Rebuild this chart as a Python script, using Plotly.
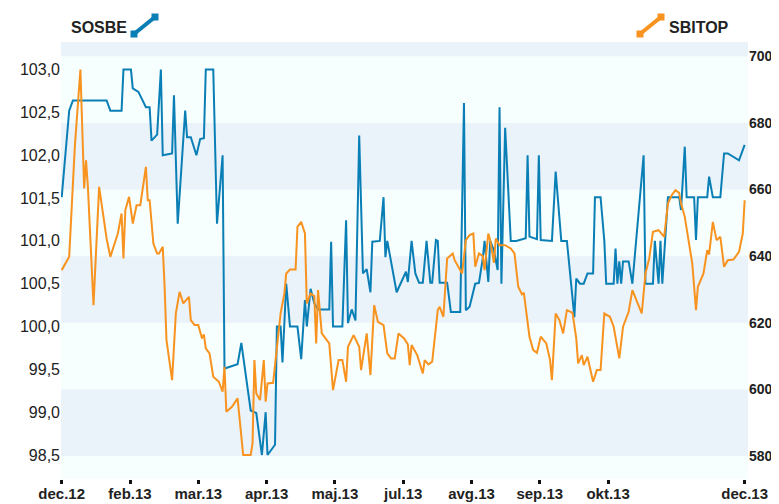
import plotly.graph_objects as go

# ---------------- data ----------------
blue_name = "SOSBE"
blue_dates = ["2012-12-31","2013-01-04","2013-01-06","2013-01-24","2013-01-26","2013-02-01","2013-02-02","2013-02-06",
"2013-02-07","2013-02-10","2013-02-14","2013-02-16","2013-02-17","2013-02-20","2013-02-22","2013-02-23","2013-02-28",
"2013-03-01","2013-03-03","2013-03-07","2013-03-08","2013-03-10","2013-03-13","2013-03-15","2013-03-17","2013-03-18",
"2013-03-22","2013-03-24","2013-03-27","2013-03-28","2013-04-04","2013-04-06","2013-04-11","2013-04-14","2013-04-17",
"2013-04-19","2013-04-20","2013-04-24","2013-04-25","2013-04-27","2013-04-28","2013-04-30","2013-05-02","2013-05-06",
"2013-05-08","2013-05-10","2013-05-11","2013-05-13","2013-05-15","2013-05-17","2013-05-23","2013-05-24","2013-05-25",
"2013-05-30","2013-06-01","2013-06-02","2013-06-04","2013-06-06","2013-06-08","2013-06-10","2013-06-12","2013-06-14",
"2013-06-15","2013-06-19","2013-06-21","2013-06-22","2013-06-23","2013-06-26","2013-06-28","2013-07-03","2013-07-04",
"2013-07-06","2013-07-08","2013-07-10","2013-07-12","2013-07-14","2013-07-16","2013-07-17","2013-07-19","2013-07-20",
"2013-07-21","2013-07-25","2013-07-27","2013-08-01","2013-08-03","2013-08-04","2013-08-06","2013-08-09","2013-08-11",
"2013-08-13","2013-08-14","2013-08-16","2013-08-17","2013-08-19","2013-08-21","2013-08-22","2013-08-23","2013-08-25",
"2013-08-28","2013-08-31","2013-09-05","2013-09-06","2013-09-07","2013-09-11","2013-09-12","2013-09-13","2013-09-19",
"2013-09-21","2013-09-24","2013-09-27","2013-09-29","2013-10-01","2013-10-02","2013-10-04","2013-10-06","2013-10-08",
"2013-10-11","2013-10-12","2013-10-15","2013-10-17","2013-10-18","2013-10-22","2013-10-23","2013-10-24","2013-10-25",
"2013-10-26","2013-10-27","2013-10-30","2013-11-01","2013-11-03","2013-11-07","2013-11-08","2013-11-12","2013-11-13",
"2013-11-15","2013-11-16","2013-11-17","2013-11-20","2013-11-26","2013-11-27","2013-11-29","2013-11-30","2013-12-04",
"2013-12-05","2013-12-06","2013-12-11","2013-12-12","2013-12-14","2013-12-18","2013-12-20","2013-12-22","2013-12-28",
"2013-12-31"]
blue_values = [101.51,102.52,102.64,102.64,102.52,102.52,103.0,103.0,
102.78,102.74,102.56,102.56,102.17,102.24,103.0,102.0,102.02,
102.70,101.20,102.52,102.21,102.21,102.0,102.19,102.2,103.0,
103.0,101.20,102.0,99.51,99.56,99.81,99.02,98.99,98.5,
99.0,98.5,98.62,100.0,100.0,99.58,100.5,100.0,100.0,
99.62,100.31,100.0,100.44,100.27,100.2,100.2,100.99,100.0,
100.0,101.24,100.04,100.2,100.07,102.23,100.62,100.67,100.40,
100.99,101.0,101.51,100.81,101.0,100.62,100.40,100.64,100.52,
101.0,100.62,100.51,100.51,101.0,100.51,100.51,101.01,101.0,
100.51,100.51,100.17,100.17,102.61,100.19,100.23,100.50,100.51,
100.79,101.0,100.52,101.0,100.89,100.66,102.56,100.5,102.32,
101.0,101.0,101.03,102.0,101.05,101.02,102.0,101.01,101.0,
101.81,101.0,101.0,100.56,100.11,100.56,100.50,100.5,100.62,
100.62,101.51,101.51,101.0,100.5,100.5,100.91,100.5,100.76,
100.5,100.76,100.76,100.5,101.0,102.0,100.5,100.5,101.0,
100.5,101.0,100.5,101.51,101.51,101.36,102.10,101.51,101.51,
101.01,101.51,101.51,101.75,101.51,101.51,102.02,102.02,101.94,
102.12]

orange_name = "SBITOP"
orange_dates = ["2012-12-31","2013-01-04","2013-01-07","2013-01-08","2013-01-10","2013-01-12","2013-01-13","2013-01-14",
"2013-01-17","2013-01-20","2013-01-24","2013-01-26","2013-01-30","2013-02-01","2013-02-02","2013-02-03","2013-02-05",
"2013-02-07","2013-02-09","2013-02-11","2013-02-14","2013-02-15","2013-02-16","2013-02-18","2013-02-20","2013-02-21",
"2013-02-23","2013-02-24","2013-02-25","2013-02-28","2013-03-02","2013-03-04","2013-03-06","2013-03-09","2013-03-10",
"2013-03-12","2013-03-14","2013-03-16","2013-03-17","2013-03-18","2013-03-20","2013-03-22","2013-03-25","2013-03-27",
"2013-03-28","2013-03-29","2013-04-01","2013-04-04","2013-04-05","2013-04-07","2013-04-11","2013-04-12","2013-04-13",
"2013-04-14","2013-04-16","2013-04-18","2013-04-19","2013-04-20","2013-04-23","2013-04-25","2013-04-27","2013-04-29",
"2013-04-30","2013-05-02","2013-05-05","2013-05-06","2013-05-08","2013-05-10","2013-05-11","2013-05-13","2013-05-15",
"2013-05-16","2013-05-17","2013-05-19","2013-05-23","2013-05-25","2013-05-28","2013-05-30","2013-06-01","2013-06-02",
"2013-06-05","2013-06-08","2013-06-09","2013-06-12","2013-06-14","2013-06-16","2013-06-18","2013-06-21","2013-06-23",
"2013-06-25","2013-06-27","2013-06-29","2013-07-02","2013-07-04","2013-07-05","2013-07-06","2013-07-09","2013-07-12",
"2013-07-13","2013-07-15","2013-07-17","2013-07-20","2013-07-21","2013-07-23","2013-07-25","2013-07-28","2013-07-29",
"2013-08-01","2013-08-02","2013-08-04","2013-08-06","2013-08-08","2013-08-09","2013-08-11","2013-08-13","2013-08-14",
"2013-08-16","2013-08-17","2013-08-19","2013-08-20","2013-08-22","2013-08-25","2013-08-28","2013-08-30","2013-09-01",
"2013-09-03","2013-09-04","2013-09-07","2013-09-09","2013-09-11","2013-09-13","2013-09-16","2013-09-18","2013-09-19",
"2013-09-21","2013-09-23","2013-09-25","2013-09-27","2013-09-30","2013-10-02","2013-10-03","2013-10-05","2013-10-06",
"2013-10-08","2013-10-11","2013-10-13","2013-10-15","2013-10-17","2013-10-20","2013-10-22","2013-10-25","2013-10-27",
"2013-10-30","2013-11-01","2013-11-03","2013-11-06","2013-11-08","2013-11-10","2013-11-12","2013-11-15","2013-11-18",
"2013-11-20","2013-11-22","2013-11-24","2013-11-26","2013-11-27","2013-11-29","2013-12-03","2013-12-05","2013-12-06",
"2013-12-09","2013-12-11","2013-12-12","2013-12-14","2013-12-16","2013-12-18","2013-12-20","2013-12-22","2013-12-25",
"2013-12-28","2013-12-30","2013-12-31"]
orange_values = [635.8,639.8,672.8,680.8,696.0,660.3,668.8,660.8,
625.3,660.8,645.3,639.8,646.8,652.8,639.3,653.8,657.8,
649.8,655.3,655.3,666.8,656.8,656.8,643.8,640.8,640.8,
642.8,630.8,614.8,602.8,622.8,629.3,625.8,627.8,620.8,
619.3,619.3,615.3,616.5,612.3,610.8,603.8,602.3,599.3,
606.8,593.3,594.8,597.3,591.8,580.3,580.3,583.8,608.8,
598.8,596.8,608.8,596.3,601.8,602.0,612.8,622.8,628.8,
634.8,636.0,636.0,648.8,650.3,646.8,625.8,628.8,628.0,
613.8,629.8,616.8,613.8,599.8,608.8,608.8,602.3,612.8,
616.3,612.8,605.8,616.8,604.3,625.3,620.3,619.3,610.8,
609.3,609.3,616.8,615.3,613.5,607.3,613.3,610.3,604.8,
608.8,607.5,608.3,623.8,624.8,621.8,639.3,640.8,638.8,
635.8,634.8,644.8,646.3,646.8,636.8,640.8,640.0,635.8,
646.8,644.8,638.0,645.3,643.3,643.3,642.3,640.8,630.8,
628.5,629.0,615.8,611.8,611.0,615.8,613.8,608.8,602.8,
622.8,620.8,616.8,623.8,623.0,615.3,607.8,610.3,607.3,
609.8,602.3,605.8,605.8,622.8,621.8,618.8,609.3,618.8,
623.3,629.8,626.8,622.8,634.8,639.3,647.3,647.8,645.8,
655.8,658.3,659.8,659.0,655.8,651.8,637.8,623.8,630.8,
634.8,641.8,640.5,650.3,644.8,645.8,636.8,638.8,639.0,
641.3,646.8,656.8]

x_tick_dates = ["2012-12-31","2013-02-05 12:00","2013-03-14","2013-04-19 12:00","2013-05-26",
                "2013-07-01 12:00","2013-08-07","2013-09-12 12:00","2013-10-19","2013-12-31"]
x_tick_labels = ["dec.12","feb.13","mar.13","apr.13","maj.13","jul.13","avg.13","sep.13","okt.13","dec.13"]
left_ticks = [98.5, 99.0, 99.5, 100.0, 100.5, 101.0, 101.5, 102.0, 102.5, 103.0]
right_ticks = [580, 600, 620, 640, 660, 680, 700]
band_edges = [(580, 600), (620, 640), (660, 680), (700, 720)]

BLUE = "#0A7FB6"
ORANGE = "#F7931E"
BAND = "#EAF2FA"
LIGHT = "#F6FEFE"
FONT = "Liberation Sans, Arial"

fig = go.Figure()
fig.add_trace(go.Scatter(x=orange_dates, y=orange_values, name=orange_name, mode="lines",
                         line=dict(color=ORANGE, width=2), yaxis="y2"))
fig.add_trace(go.Scatter(x=blue_dates, y=blue_values, name=blue_name, mode="lines",
                         line=dict(color=BLUE, width=2), yaxis="y"))

shapes = []
for lo, hi in band_edges:
    shapes.append(dict(type="rect", xref="paper", yref="y2", x0=0, x1=1, y0=lo, y1=hi,
                       fillcolor=BAND, line=dict(width=0), layer="below"))

# The page has an 8px body margin, so the figure is sized 8px smaller and
# the plot area is placed so that, on screen, it spans x 61..748, y 42..479.
OFF = 8
W, H, L, B = 687.0, 437.0, 61, 479
def px(x): return (x - L) / W
def py(y): return (B - y) / H

def icon(x0, y0, x1, y1, color):
    out = [dict(type="line", xref="paper", yref="paper", x0=px(x0), y0=py(y0), x1=px(x1), y1=py(y1),
                line=dict(color=color, width=4))]
    for cx, cy in [(x0, y0), (x1, y1)]:
        out.append(dict(type="rect", xref="paper", yref="paper", x0=px(cx - 3.5), x1=px(cx + 3.5),
                        y0=py(cy + 3.5), y1=py(cy - 3.5), fillcolor=color, line=dict(width=0)))
    return out

shapes += icon(134, 34, 155, 17, BLUE)
shapes += icon(640, 34, 661, 17, ORANGE)

annotations = [
    dict(text=blue_name, xref="paper", yref="paper", x=px(129), y=py(27), xanchor="right", yanchor="middle",
         showarrow=False, font=dict(family=FONT, size=16, color="#222", weight="bold")),
    dict(text=orange_name, xref="paper", yref="paper", x=px(667), y=py(27), xanchor="left", yanchor="middle",
         showarrow=False, font=dict(family=FONT, size=16, color="#222", weight="bold")),
]

fig.update_layout(
    width=779 - OFF, height=504 - OFF, autosize=False,
    margin=dict(l=L - OFF, r=779 - (L + W), t=42 - OFF, b=504 - B, pad=0),
    paper_bgcolor="white", plot_bgcolor=LIGHT,
    showlegend=False,
    separators=",.",
    shapes=shapes, annotations=annotations,
    xaxis=dict(type="date", range=["2012-12-30 15:00", "2014-01-01 19:00"], automargin=False,
               tickmode="array", tickvals=x_tick_dates, ticktext=x_tick_labels,
               ticks="outside", ticklen=4, tickwidth=3, tickcolor="#111", ticklabelstandoff=-3,
               showgrid=False, zeroline=False, showline=False,
               tickfont=dict(family=FONT, size=15, color="#222", weight="bold")),
    yaxis=dict(range=[98.22, 103.322], tickmode="array", tickvals=left_ticks, tickformat=".1f",
               automargin=False, showgrid=False, zeroline=False, showline=False, ticks="",
               tickfont=dict(family=FONT, size=16, color="#222")),
    yaxis2=dict(range=[573.1, 704.29], overlaying="y", side="right", tickmode="array", tickvals=right_ticks,
                automargin=False, showgrid=False, zeroline=False, showline=False, ticks="",
                tickfont=dict(family=FONT, size=14, color="#222", weight="bold")),
)

fig.write_html("out.html")
